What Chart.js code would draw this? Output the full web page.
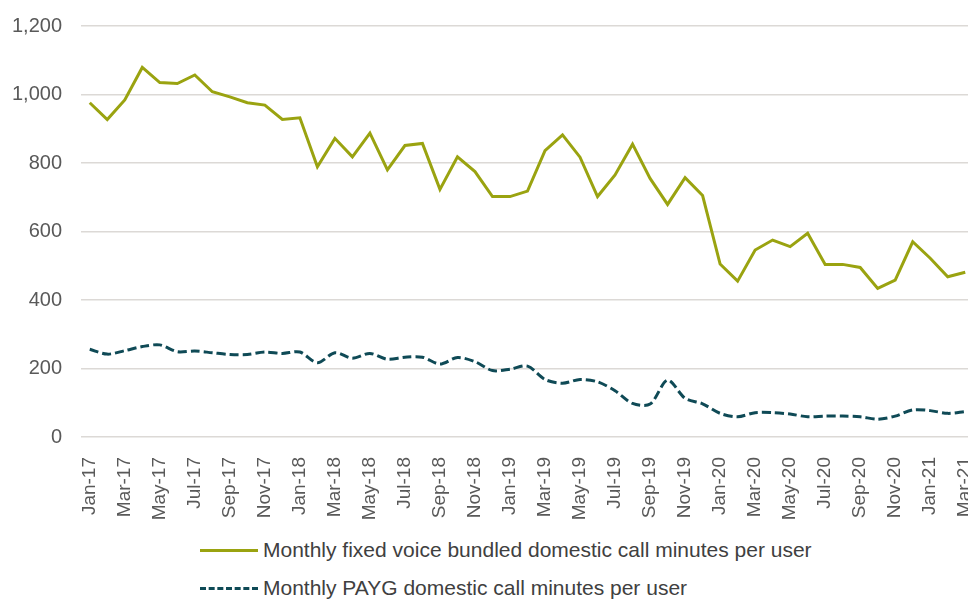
<!DOCTYPE html>
<html>
<head>
<meta charset="utf-8">
<script src="https://cdn.jsdelivr.net/npm/chart.js@4"></script>
<style>
  body { margin: 0; background: #fff; overflow: hidden; width: 968px; height: 599px; }
  #wrap { position: relative; width: 976px; height: 530px; }
  .legend { position: absolute; left: 0; top: 0; font-family: "Liberation Sans", Arial, sans-serif; font-size: 21px; color: #404040; }
  .item { position: absolute; left: 200px; white-space: nowrap; display: flex; align-items: center; }
  .swatch { width: 58px; height: 0; margin-right: 5px; }
</style>
</head>
<body>
<div id="wrap"><canvas id="callChart" width="976" height="530"></canvas></div>
<div class="legend">
  <div class="item" style="top:538px"><span class="swatch" style="border-top:3px solid #9aa310"></span><span>Monthly fixed voice bundled domestic call minutes per user</span></div>
  <div class="item" style="top:576px"><span class="swatch" style="border-top:3px dashed #0f4a56"></span><span>Monthly PAYG domestic call minutes per user</span></div>
</div>
<script>
const monthNames = ["Jan", "Feb", "Mar", "Apr", "May", "Jun", "Jul", "Aug", "Sep", "Oct", "Nov", "Dec"];
const years = ["17", "18", "19", "20", "21"];

// Jan-17 .. Mar-21
const months = [];
years.forEach((y) => monthNames.forEach((m) => months.push(m + "-" + y)));
months.length = 51;

const bundledMinutes = [976, 927, 984, 1079, 1035, 1032, 1057, 1008, 993, 976, 969, 927, 932, 789, 872, 818, 887, 780,
  851, 857, 723, 818, 775, 702, 702, 718, 836, 882, 817, 702, 765, 855, 755, 679, 757, 705,
  505, 455, 546, 575, 556, 595, 504, 504, 495, 434, 458, 570, 522, 468, 481];
const paygMinutes = [256, 242, 252, 264, 269, 249, 251, 246, 241, 241, 248, 244, 248, 217, 246, 230, 244, 227,
  233, 233, 213, 232, 220, 194, 198, 207, 168, 157, 168, 161, 135, 98, 96, 166, 113, 97,
  69, 59, 71, 71, 67, 59, 61, 61, 59, 52, 61, 79, 77, 69, 74];

const yTicks = [0, 200, 400, 600, 800, 1000, 1200];

const tickFont = { family: "Liberation Sans", size: 19 };

new Chart("callChart", {
  type: "line",
  data: {
    labels: months,
    datasets: [
      {
        label: "Monthly fixed voice bundled domestic call minutes per user",
        data: bundledMinutes,
        borderColor: "#9aa310",
        borderWidth: 3,
        pointRadius: 0,
        tension: 0,
      },
      {
        label: "Monthly PAYG domestic call minutes per user",
        data: paygMinutes,
        borderColor: "#0f4a56",
        borderWidth: 3,
        borderDash: [9, 4],
        pointRadius: 0,
        tension: 0.3,
      },
    ],
  },
  options: {
    responsive: false,
    animation: false,
    devicePixelRatio: 1,
    layout: { padding: { top: 26, right: 2, left: 0, bottom: 0 } },
    plugins: { legend: { display: false }, tooltip: { enabled: false } },
    scales: {
      x: {
        offset: true,
        grid: { display: false },
        border: { display: false },
        afterFit: (s) => {
          s.height = 93;
          s.paddingLeft = 0;
          s.paddingRight = 0;
        },
        ticks: {
          autoSkip: false,
          minRotation: 90,
          maxRotation: 90,
          padding: 12,
          color: "#595959",
          font: tickFont,
          callback: function (val, idx) {
            return idx % 2 === 0 ? this.getLabelForValue(val) : "";
          },
        },
      },
      y: {
        min: yTicks[0],
        max: yTicks[yTicks.length - 1],
        afterFit: (s) => {
          s.width = 81;
          s.paddingTop = 0;
          s.paddingBottom = 0;
        },
        afterBuildTicks: (s) => { s.ticks = yTicks.map((v) => ({ value: v })); },
        border: { display: false },
        grid: { color: "#dcd9d6", lineWidth: 1.5, drawTicks: false },
        ticks: { padding: 19, color: "#595959", font: { family: "Liberation Sans", size: 20 } },
      },
    },
  },
});
</script>
</body>
</html>
